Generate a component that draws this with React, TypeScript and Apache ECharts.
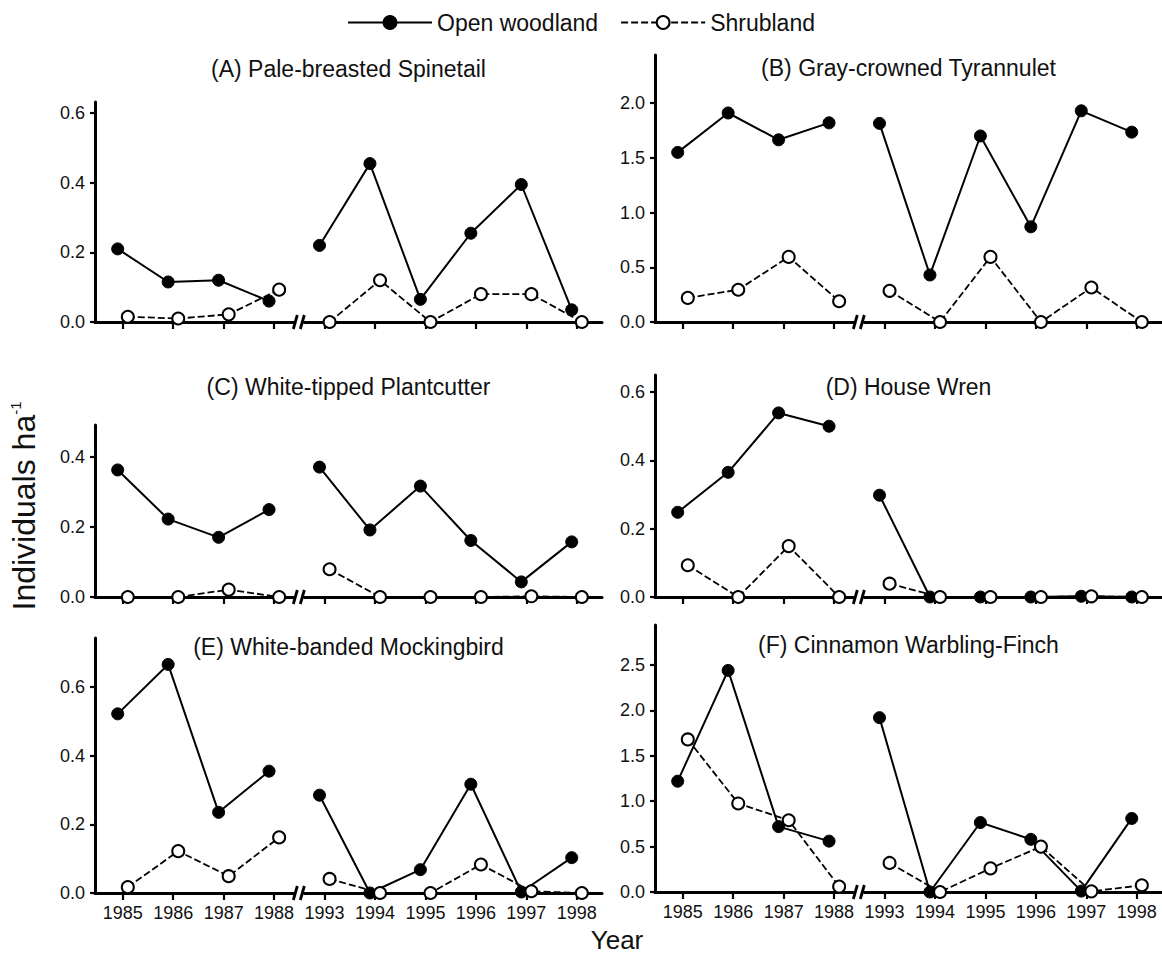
import React, { useEffect, useRef } from 'react';
import * as echarts from 'echarts';

const years = ['1985', '1986', '1987', '1988', '1993', '1994', '1995', '1996', '1997', '1998'];
const panelTitles = [
  '(A) Pale-breasted Spinetail',
  '(B) Gray-crowned Tyrannulet',
  '(C) White-tipped Plantcutter',
  '(D) House Wren',
  '(E) White-banded Mockingbird',
  '(F) Cinnamon Warbling-Finch',
];

const woodlandA = [0.21, 0.115, 0.12, 0.06, 0.22, 0.455, 0.065, 0.255, 0.395, 0.035];
const shrubA = [0.015, 0.01, 0.022, 0.093, 0, 0.12, 0, 0.08, 0.08, 0];
const woodlandB = [1.55, 1.91, 1.665, 1.82, 1.815, 0.43, 1.7, 0.87, 1.93, 1.735];
const shrubB = [0.22, 0.295, 0.595, 0.19, 0.285, 0, 0.595, 0, 0.315, 0];
const woodlandC = [0.362, 0.222, 0.17, 0.249, 0.37, 0.191, 0.316, 0.161, 0.043, 0.157];
const shrubC = [0, 0, 0.021, 0, 0.079, 0, 0, 0, 0.002, 0];
const woodlandD = [0.248, 0.365, 0.539, 0.5, 0.298, 0, 0, 0, 0.002, 0];
const shrubD = [0.093, 0, 0.149, 0, 0.039, 0, 0, 0, 0.002, 0];
const woodlandE = [0.522, 0.666, 0.235, 0.355, 0.285, 0, 0.068, 0.317, 0.003, 0.103];
const shrubE = [0.017, 0.122, 0.049, 0.162, 0.041, 0, 0, 0.083, 0.005, 0];
const woodlandF = [1.22, 2.44, 0.72, 0.56, 1.92, 0, 0.765, 0.58, 0.01, 0.81];
const shrubF = [1.68, 0.975, 0.79, 0.06, 0.32, 0, 0.26, 0.5, 0.007, 0.074];

const yTicksA = [0, 0.2, 0.4, 0.6];
const yTicksB = [0, 0.5, 1.0, 1.5, 2.0];
const yTicksC = [0, 0.2, 0.4];
const yTicksD = [0, 0.2, 0.4, 0.6];
const yTicksE = [0, 0.2, 0.4, 0.6];
const yTicksF = [0, 0.5, 1.0, 1.5, 2.0, 2.5];
const yMaxes = [0.632, 2.44, 0.49, 0.65, 0.743, 2.94];

const woodlandAll = [woodlandA, woodlandB, woodlandC, woodlandD, woodlandE, woodlandF];
const shrubAll = [shrubA, shrubB, shrubC, shrubD, shrubE, shrubF];
const yTicksAll = [yTicksA, yTicksB, yTicksC, yTicksD, yTicksE, yTicksF];

const BREAK_AT = 3.5; // between 1988 and 1993
const FONT = 'Liberation Sans, Arial, Helvetica, sans-serif';

const grids = [
  { left: 95, top: 102, width: 507, height: 220 },
  { left: 655, top: 55, width: 507, height: 267 },
  { left: 95, top: 425, width: 507, height: 172 },
  { left: 655, top: 375, width: 507, height: 222 },
  { left: 95, top: 638, width: 507, height: 255 },
  { left: 655, top: 625, width: 507, height: 267 },
];
const titleY = [69, 68, 387, 387, 647, 645];

function segments(vals: number[], off: number) {
  return [
    vals.slice(0, 4).map((v, i) => [i + off, v]),
    vals.slice(4).map((v, i) => [i + 4 + off, v]),
  ];
}

export default function App() {
  const ref = useRef<HTMLDivElement>(null);
  useEffect(() => {
    if (!ref.current) return;
    const chart = echarts.init(ref.current, undefined, { renderer: 'svg' });

    const xAxes: any[] = [];
    const yAxes: any[] = [];
    const series: any[] = [];
    const graphics: any[] = [];
    const idx = [0, 1, 2, 3, 4, 5, 6, 7, 8, 9];

    grids.forEach((g, k) => {
      const showX = k >= 4;
      xAxes.push({
        gridIndex: k,
        type: 'value',
        min: -0.55,
        max: 9.5,
        splitLine: { show: false },
        axisLine: { show: true, onZero: false, lineStyle: { color: '#000', width: 3 } },
        axisTick: { show: true, customValues: idx, length: 7, lineStyle: { color: '#000', width: 2.2 } },
        axisLabel: {
          show: showX,
          customValues: idx,
          formatter: (v: number) => years[Math.round(v)] ?? '',
          color: '#111',
          fontSize: 18,
          fontFamily: FONT,
          margin: 11,
        },
      });
      yAxes.push({
        gridIndex: k,
        type: 'value',
        min: 0,
        max: yMaxes[k],
        splitLine: { show: false },
        axisLine: { show: true, onZero: false, lineStyle: { color: '#000', width: 3 } },
        axisTick: { show: true, customValues: yTicksAll[k], length: 5, lineStyle: { color: '#000', width: 2.2 } },
        axisLabel: {
          customValues: yTicksAll[k],
          formatter: (v: number) => v.toFixed(1),
          color: '#111',
          fontSize: 18,
          fontFamily: FONT,
          margin: 10,
        },
      });

      segments(woodlandAll[k], -0.1).forEach((seg) => {
        series.push({
          name: 'Open woodland',
          type: 'line',
          xAxisIndex: k,
          yAxisIndex: k,
          data: seg,
          symbol: 'circle',
          symbolSize: 12,
          itemStyle: { color: '#000', borderColor: '#000', borderWidth: 1 },
          lineStyle: { color: '#000', width: 2, type: 'solid' },
          z: 3,
        });
      });
      segments(shrubAll[k], 0.1).forEach((seg) => {
        series.push({
          name: 'Shrubland',
          type: 'line',
          xAxisIndex: k,
          yAxisIndex: k,
          data: seg,
          symbol: 'circle',
          symbolSize: 12,
          itemStyle: { color: '#fff', borderColor: '#000', borderWidth: 2 },
          lineStyle: { color: '#000', width: 1.8, type: [7, 3] },
          z: 4,
        });
      });
      series.push({
        type: 'custom',
        xAxisIndex: k,
        yAxisIndex: k,
        data: [[BREAK_AT, 0]],
        clip: false,
        silent: true,
        z: 5,
        renderItem: (_p: any, api: any) => {
          const p = api.coord([BREAK_AT, 0]);
          return {
            type: 'group',
            children: [
              { type: 'rect', shape: { x: p[0] - 4, y: p[1] - 3, width: 8, height: 6 }, style: { fill: '#fff' } },
              { type: 'line', shape: { x1: p[0] - 6, y1: p[1] + 7, x2: p[0] - 2, y2: p[1] - 7 }, style: { stroke: '#000', lineWidth: 2.8 } },
              { type: 'line', shape: { x1: p[0] + 1, y1: p[1] + 7, x2: p[0] + 5, y2: p[1] - 7 }, style: { stroke: '#000', lineWidth: 2.8 } },
            ],
          };
        },
      });

      graphics.push({
        type: 'text',
        x: g.left + g.width / 2,
        y: titleY[k],
        style: {
          text: panelTitles[k],
          fontSize: 23,
          fontFamily: FONT,
          fill: '#111',
          align: 'center',
          verticalAlign: 'middle',
        },
      });
    });

    graphics.push({
      type: 'text',
      x: 24,
      y: 506,
      rotation: Math.PI / 2,
      style: {
        text: 'Individuals ha{sup|-1}',
        fontSize: 32,
        fontFamily: FONT,
        fill: '#111',
        align: 'center',
        verticalAlign: 'middle',
        rich: { sup: { fontSize: 15, fontFamily: FONT, fill: '#111', verticalAlign: 'top' } },
      },
    });
    graphics.push({
      type: 'text',
      x: 617,
      y: 940,
      style: {
        text: 'Year',
        fontSize: 26,
        fontFamily: FONT,
        fill: '#111',
        align: 'center',
        verticalAlign: 'middle',
      },
    });

    chart.setOption({
      animation: false,
      backgroundColor: '#fff',
      legend: {
        data: ['Open woodland', 'Shrubland'],
        top: 6,
        left: 'center',
        itemWidth: 84,
        itemHeight: 16,
        itemGap: 22,
        textStyle: { fontSize: 23, fontFamily: FONT, color: '#111' },
      },
      grid: grids.map((g) => ({ ...g, containLabel: false })),
      xAxis: xAxes,
      yAxis: yAxes,
      series,
      graphic: graphics,
    });
    return () => chart.dispose();
  }, []);
  return <div ref={ref} style={{ position: 'fixed', left: 0, top: 0, width: 1162, height: 957 }} />;
}
